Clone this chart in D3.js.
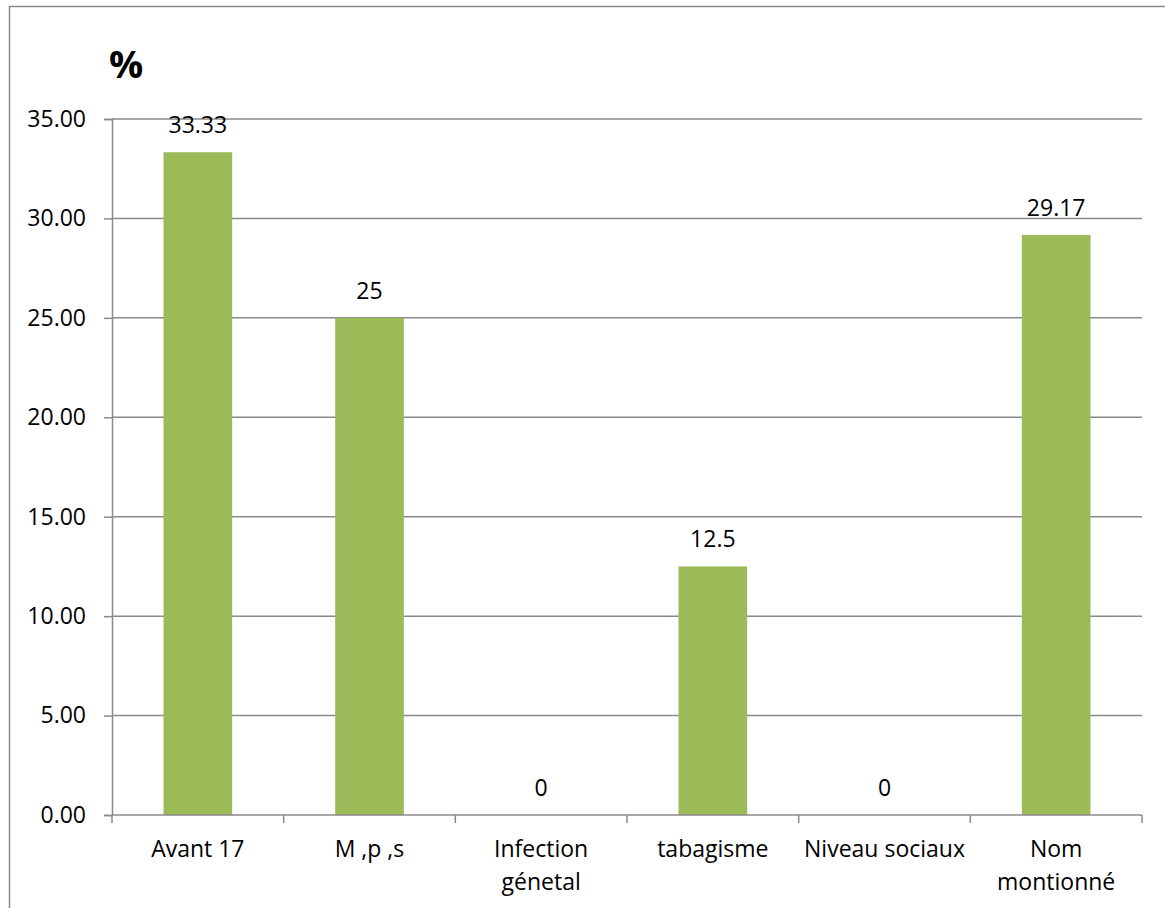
<!DOCTYPE html>
<html>
<head>
<meta charset="utf-8">
<script src="https://cdn.jsdelivr.net/npm/d3@7/dist/d3.min.js"></script>
<style>
  html, body { margin: 0; padding: 0; background: #fff; }
  svg { display: block; }
  text { font-family: "Open Sans", "Noto Sans", sans-serif; fill: #000; }
</style>
</head>
<body>
<svg id="chart" width="1165" height="908"></svg>
<script>
// Risk factors, share of cases (%)
const categories = [
  ["Avant 17"],
  ["M ,p ,s"],
  ["Infection", "génetal"],
  ["tabagisme"],
  ["Niveau sociaux"],
  ["Nom", "montionné"]
];
const values = [33.33, 25, 0, 12.5, 0, 29.17];
const valueLabels = ["33.33", "25", "0", "12.5", "0", "29.17"];
const yTicks = [0, 5, 10, 15, 20, 25, 30, 35];

const svg = d3.select("#chart");
const gridColor = "#8a8a8a";
const barColor = "#9bbb59";
const fontSize = 23;

// Frame of the chart area
svg.append("rect")
  .attr("x", 9.5).attr("y", 6.5)
  .attr("width", 1200).attr("height", 1000)
  .attr("fill", "none")
  .attr("stroke", gridColor)
  .attr("stroke-width", 1.5);

const plotLeft = 112, plotRight = 1142, plotTop = 119, plotBottom = 815;

const x = d3.scaleBand()
  .domain(d3.range(categories.length))
  .range([plotLeft, plotRight])
  .paddingInner(0.6)
  .paddingOuter(0.3);

const y = d3.scaleLinear().domain([0, 35]).range([plotBottom, plotTop]);

// Horizontal gridlines
svg.append("g")
  .selectAll("line")
  .data(yTicks.filter(d => d > 0))
  .join("line")
  .attr("x1", plotLeft).attr("x2", plotRight)
  .attr("y1", d => y(d)).attr("y2", d => y(d))
  .attr("stroke", gridColor)
  .attr("stroke-width", 1.5);

// Y axis
const yAxis = svg.append("g")
  .attr("transform", `translate(${plotLeft},0)`)
  .call(d3.axisLeft(y).tickValues(yTicks).tickSize(8).tickPadding(18)
    .tickFormat(d3.format(".2f")));
yAxis.select(".domain").attr("stroke", gridColor).attr("stroke-width", 1.5);
yAxis.selectAll(".tick line").attr("stroke", gridColor).attr("stroke-width", 1.5);
yAxis.selectAll(".tick text")
  .attr("font-size", fontSize)
  .style("font-family", '"Open Sans", sans-serif')
  .attr("fill", "#000");

// Bars
svg.append("g")
  .selectAll("rect")
  .data(values)
  .join("rect")
  .attr("x", (d, i) => x(i))
  .attr("y", d => y(d))
  .attr("width", x.bandwidth())
  .attr("height", d => y(0) - y(d))
  .attr("fill", barColor);

// X axis with ticks between categories
const band = (plotRight - plotLeft) / categories.length;
const xPos = d3.scaleLinear().domain([0, categories.length]).range([plotLeft, plotRight]);
const xg = svg.append("g");
xg.append("line")
  .attr("x1", plotLeft).attr("x2", plotRight)
  .attr("y1", plotBottom).attr("y2", plotBottom)
  .attr("stroke", gridColor).attr("stroke-width", 1.5);
xg.selectAll("line.tick")
  .data(d3.range(categories.length + 1))
  .join("line")
  .attr("class", "tick")
  .attr("x1", d => xPos(d)).attr("x2", d => xPos(d))
  .attr("y1", plotBottom).attr("y2", plotBottom + 8)
  .attr("stroke", gridColor).attr("stroke-width", 1.5);

// Category labels
xg.selectAll("text.cat")
  .data(categories)
  .join("text")
  .attr("class", "cat")
  .attr("text-anchor", "middle")
  .attr("font-size", fontSize)
  .attr("x", (d, i) => xPos(i) + band / 2)
  .attr("y", 857)
  .selectAll("tspan")
  .data(d => d)
  .join("tspan")
  .attr("x", function() { return this.parentNode.getAttribute("x"); })
  .attr("dy", (d, j) => j === 0 ? 0 : 33)
  .text(d => d);

// Value labels above bars
svg.append("g")
  .selectAll("text")
  .data(values)
  .join("text")
  .attr("text-anchor", "middle")
  .attr("font-size", fontSize)
  .attr("x", (d, i) => x(i) + x.bandwidth() / 2)
  .attr("y", d => y(d) - 19)
  .text((d, i) => valueLabels[i]);

// Unit label
svg.append("text")
  .attr("x", 109).attr("y", 78)
  .attr("font-size", 38)
  .attr("font-weight", "bold")
  .text("%");
</script>
</body>
</html>
